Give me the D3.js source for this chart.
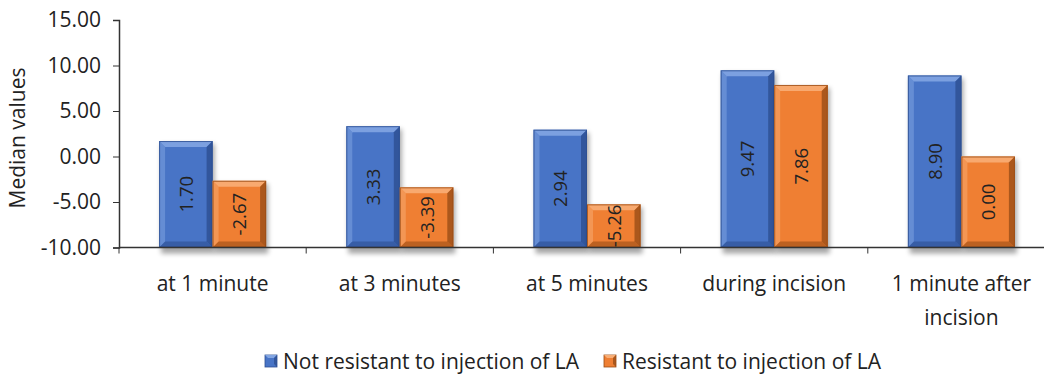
<!DOCTYPE html>
<html><head><meta charset="utf-8">
<script src="https://cdn.jsdelivr.net/npm/d3@7"></script>
<style>body{margin:0;background:#fff}svg{display:block}text{font-family:"Open Sans",sans-serif;fill:#222}</style>
</head><body><svg id="c" width="1044" height="374"></svg>
<script>
const categories = ["at 1 minute","at 3 minutes","at 5 minutes","during incision","1 minute after incision"];
const seriesNames = ["Not resistant to injection of LA","Resistant to injection of LA"];
const notResistant = [1.70, 3.33, 2.94, 9.47, 8.90];
const resistant = [-2.67, -3.39, -5.26, 7.86, 0.00];
const yTicks = [-10, -5, 0, 5, 10, 15];
const colors = ["#4874c6", "#ef7f33"];
const light = ["#82a5e2", "#f8ae76"];
const dark = ["#2d4f91", "#9a4d16"];

(function(){
const svg = d3.select("#c");
const fs = 21;
const fmt = d => d.toFixed(2);
const pLeft = 119, pRight = 1055, pTop = 20, pBottom = 247.5;
const y = d3.scaleLinear().domain([-10, 15]).range([pBottom, pTop]);
const x0 = d3.scaleBand().domain(categories).range([pLeft, pRight]).paddingInner(0).paddingOuter(0);
const x1 = d3.scaleBand().domain([0,1]).range([0, 107]);

const defs = svg.append("defs");
defs.append("filter").attr("id","sh").attr("x","-20%").attr("y","-20%").attr("width","140%").attr("height","140%")
  .append("feGaussianBlur").attr("stdDeviation", 2.5);

const series = [notResistant, resistant];
const g = svg.append("g");
categories.forEach((c, i) => {
  const cx = x0(c) + x0.bandwidth()/2 - 53.5;
  series.forEach((vals, s) => {
    const v = vals[i];
    const bx = cx + x1(s), bw = x1.bandwidth();
    const by = y(v), bh = y(-10) - y(v);
    const b = 6;
    g.append("rect").attr("x", bx+2).attr("y", by+3).attr("width", bw).attr("height", bh+3)
      .attr("fill", "#000").attr("opacity", 0.35).attr("filter","url(#sh)");
    g.append("rect").attr("x", bx).attr("y", by).attr("width", bw).attr("height", bh).attr("fill", colors[s]);
    const x2 = bx+bw, y2 = by+bh;
    const poly = (pts, fill, op) => g.append("polygon").attr("points", pts.map(p=>p.join(",")).join(" ")).attr("fill", fill).attr("opacity", op);
    poly([[bx,by],[x2,by],[x2-b,by+b],[bx+b,by+b]], light[s], 0.9);
    poly([[bx,by],[bx+b,by+b],[bx+b,y2-b],[bx,y2]], light[s], 0.5);
    poly([[x2,by],[x2,y2],[x2-b,y2-b],[x2-b,by+b]], dark[s], 0.8);
    poly([[bx,y2],[bx+b,y2-b],[x2-b,y2-b],[x2,y2]], dark[s], 0.6);
    g.append("rect").attr("x", bx+0.5).attr("y", by+0.5).attr("width", bw-1).attr("height", bh-1)
      .attr("fill","none").attr("stroke", dark[s]).attr("stroke-width",1).attr("opacity",0.8);
    g.append("text").attr("transform", `translate(${bx+bw/2+7},${by+bh/2}) rotate(-90)`)
      .attr("text-anchor","middle").attr("font-size", 18.5).text(fmt(v));
  });
});

const ya = svg.append("g").attr("transform", `translate(${pLeft},0)`)
  .call(d3.axisLeft(y).tickValues(yTicks).tickSize(6).tickFormat(fmt));
ya.select(".domain").attr("stroke","#333").attr("stroke-width",1.5);
ya.selectAll(".tick line").attr("stroke","#333");
ya.selectAll(".tick text").attr("font-size",fs).attr("x",-18).attr("fill","#222").attr("font-family","Open Sans,sans-serif");

const xa = svg.append("g").attr("transform", `translate(0,${pBottom})`);
xa.append("line").attr("x1", pLeft).attr("x2", pRight).attr("stroke","#333").attr("stroke-width",1.5);
const bounds = categories.map(c => x0(c)).concat([pRight]);
xa.selectAll("line.t").data(bounds).join("line").attr("class","t")
  .attr("x1", d=>d).attr("x2", d=>d).attr("y1",0).attr("y2",6).attr("stroke","#333");

const catLines = {"1 minute after incision": ["1 minute after", "incision"]};
categories.forEach(c => {
  const lines = catLines[c] || [c];
  lines.forEach((l, k) => {
    svg.append("text").attr("x", x0(c) + x0.bandwidth()/2).attr("y", 291 + k*34)
      .attr("text-anchor","middle").attr("font-size",fs).text(l);
  });
});

svg.append("text").attr("transform","translate(25,138) rotate(-90)").attr("text-anchor","middle")
  .attr("font-size",fs).text("Median values");

const legX = [265, 604];
seriesNames.forEach((n, s) => {
  const lg = svg.append("g").attr("transform", `translate(${legX[s]},355)`);
  lg.append("rect").attr("width",12).attr("height",12).attr("fill",colors[s]).attr("stroke",dark[s]).attr("stroke-width",0.8);
  lg.append("polygon").attr("points","0,0 12,0 9,3 3,3").attr("fill",light[s]);
  lg.append("polygon").attr("points","12,0 12,12 9,9 9,3").attr("fill",dark[s]).attr("opacity",0.8);
  lg.append("text").attr("x",18).attr("y",14).attr("font-size",fs).text(n);
});
})();
</script></body></html>
